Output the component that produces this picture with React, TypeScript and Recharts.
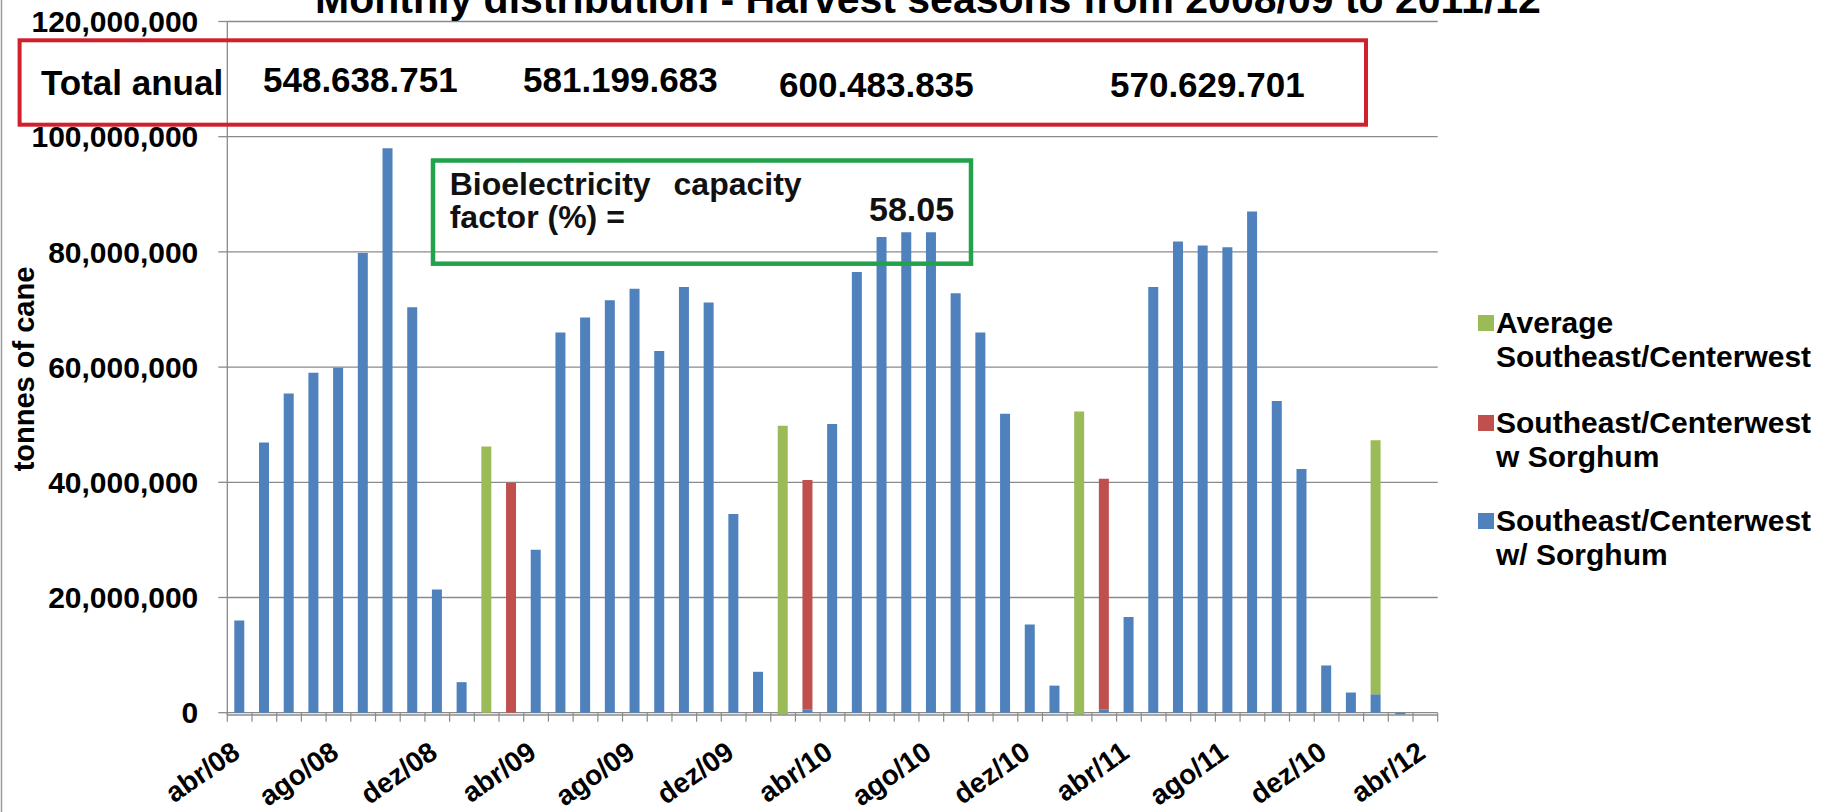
import { BarChart, Bar, XAxis, YAxis, CartesianGrid } from 'recharts';

const FONT = '"Liberation Sans", Arial, Helvetica, sans-serif';

// one category per month, abr/08 .. abr/12
const months = [
  'abr/08', 'mai/08', 'jun/08', 'jul/08', 'ago/08', 'set/08', 'out/08', 'nov/08', 'dez/08', 'jan/09', 'fev/09', 'mar/09',
  'abr/09', 'mai/09', 'jun/09', 'jul/09', 'ago/09', 'set/09', 'out/09', 'nov/09', 'dez/09', 'jan/10', 'fev/10', 'mar/10',
  'abr/10', 'mai/10', 'jun/10', 'jul/10', 'ago/10', 'set/10', 'out/10', 'nov/10', 'dez/10', 'jan/11', 'fev/11', 'mar/11',
  'abr/11', 'mai/11', 'jun/11', 'jul/11', 'ago/11', 'set/11', 'out/11', 'nov/11', 'dez/11', 'jan/12', 'fev/12', 'mar/12',
  'abr/12',
];

// labels shown on the axis, every 4th month (as printed in the original)
const tickLabels = ['abr/08', 'ago/08', 'dez/08', 'abr/09', 'ago/09', 'dez/09', 'abr/10', 'ago/10', 'dez/10', 'abr/11', 'ago/11', 'dez/10', 'abr/12'];

// million tonnes of cane, stacked bottom -> top: blue, red, green
const swSorghumSlash = [
  16.0, 46.9, 55.4, 59.0, 59.9, 79.8, 98.0, 70.4, 21.4, 5.3, 0, 0,
  28.3, 66.0, 68.6, 71.6, 73.6, 62.8, 73.9, 71.2, 34.5, 7.1, -0.3, 0.6,
  50.1, 76.5, 82.6, 83.4, 83.4, 72.8, 66.0, 51.9, 15.3, 4.7, -0.3, 0.6,
  16.6, 73.9, 81.8, 81.1, 80.8, 87.0, 54.1, 42.3, 8.2, 3.5, 3.2, -0.3,
  0,
];
const swSorghum = [
  0, 0, 0, 0, 0, 0, 0, 0, 0, 0, 0, 39.9,
  0, 0, 0, 0, 0, 0, 0, 0, 0, 0, 0, 39.8,
  0, 0, 0, 0, 0, 0, 0, 0, 0, 0, 0, 40.0,
  0, 0, 0, 0, 0, 0, 0, 0, 0, 0, 0, 0,
  0,
];
const averageSECW = [
  0, 0, 0, 0, 0, 0, 0, 0, 0, 0, 46.2, 0,
  0, 0, 0, 0, 0, 0, 0, 0, 0, 0, 50.1, 0,
  0, 0, 0, 0, 0, 0, 0, 0, 0, 0, 52.6, 0,
  0, 0, 0, 0, 0, 0, 0, 0, 0, 0, 44.1, 0,
  0,
];

const yTicks = [0, 20000000, 40000000, 60000000, 80000000, 100000000, 120000000];

const annualTotals = ['548.638.751', '581.199.683', '600.483.835', '570.629.701'];
const capacityFactor = '58.05';

// legend order as in the original (top of stack first)
const legendItems = [
  { lines: ['Average', 'Southeast/Centerwest'], color: '#9BBB59' },
  { lines: ['Southeast/Centerwest', 'w Sorghum'], color: '#C0504D' },
  { lines: ['Southeast/Centerwest', 'w/ Sorghum'], color: '#4F81BD' },
];

const data = months.map((m, i) => ({
  month: m,
  blue: swSorghumSlash[i] * 1e6,
  red: swSorghum[i] * 1e6,
  green: averageSECW[i] * 1e6,
}));

// layout
const W = 1835;
const H = 812;
const PLOT_LEFT = 227.3;
const PLOT_RIGHT = 1437.7;
const PLOT_TOP = 21.5;
const PLOT_BOTTOM = 715;
const ZERO_OFFSET = 2.3; // zero line sits a little above the plot bottom (tiny negatives)
const BAND = (PLOT_RIGHT - PLOT_LEFT) / months.length;
const GRID = '#8a8a8a';

function XTick(props: any) {
  const { x, y, index } = props;
  const zeroY = y - ZERO_OFFSET;
  const label = index % 4 === 0 ? tickLabels[index / 4] : null;
  const lx = x + 2;
  const ly = zeroY + 43.5;
  return (
    <g>
      <line x1={x - BAND / 2} x2={x - BAND / 2} y1={zeroY} y2={zeroY + 9} stroke={GRID} strokeWidth={1.2} />
      {index === months.length - 1 && (
        <line x1={x + BAND / 2} x2={x + BAND / 2} y1={zeroY} y2={zeroY + 9} stroke={GRID} strokeWidth={1.2} />
      )}
      {label && (
        <text
          x={lx}
          y={ly}
          textAnchor="end"
          transform={`rotate(-35, ${lx}, ${ly})`}
          fontFamily={FONT}
          fontSize={28}
          fontWeight={700}
          fill="#000"
        >
          {label}
        </text>
      )}
    </g>
  );
}

const totalsX = [263, 523, 779, 1110];
const totalsY = [92, 92, 97, 97];
const legendY = [333, 433, 531];

export default function App() {
  return (
    <div style={{ position: 'absolute', left: 0, top: 0, width: W, height: H, background: '#fff' }}>
      <BarChart
        width={W}
        height={H}
        data={data}
        margin={{ top: PLOT_TOP, right: W - PLOT_RIGHT, bottom: 0, left: 0 }}
        barSize={10}
      >
        <CartesianGrid vertical={false} stroke={GRID} strokeWidth={1.3} />
        <XAxis
          dataKey="month"
          interval={0}
          tickLine={false}
          axisLine={false}
          tickSize={0}
          tickMargin={0}
          height={H - PLOT_BOTTOM}
          tick={(p: any) => <XTick {...p} />}
        />
        <YAxis
          width={PLOT_LEFT}
          domain={[-400000, 120000000]}
          ticks={yTicks}
          interval={0}
          tickFormatter={(v: number) => v.toLocaleString('en-US')}
          tickSize={9}
          tickMargin={20}
          tickLine={{ stroke: GRID, strokeWidth: 1.3 }}
          axisLine={{ stroke: GRID, strokeWidth: 1.3 }}
          tick={{ fill: '#000', fontSize: 30, fontWeight: 700, fontFamily: FONT }}
        />
        <Bar dataKey="blue" stackId="s" fill="#4F81BD" isAnimationActive={false} />
        <Bar dataKey="red" stackId="s" fill="#C0504D" isAnimationActive={false} />
        <Bar dataKey="green" stackId="s" fill="#9BBB59" isAnimationActive={false} />
      </BarChart>

      <svg
        width={W}
        height={H}
        style={{ position: 'absolute', left: 0, top: 0, pointerEvents: 'none' }}
        fontFamily={FONT}
      >
        <line x1={1.5} x2={1.5} y1={0} y2={H} stroke="#9a9a9a" strokeWidth={1.5} />

        <text x={928} y={13} textAnchor="middle" fontSize={41} fontWeight={700} fill="#000">
          Monthly distribution - Harvest seasons from 2008/09 to 2011/12
        </text>

        <text
          x={23.5}
          y={369}
          textAnchor="middle"
          dominantBaseline="central"
          transform="rotate(-90, 23.5, 369)"
          fontSize={29}
          fontWeight={700}
          fill="#000"
        >
          tonnes of cane
        </text>

        {/* annual totals box */}
        <rect x={19.6} y={40.3} width={1346.4} height={84.4} fill="none" stroke="#D0202E" strokeWidth={4} />
        <text x={41} y={95} fontSize={35} fontWeight={700} fill="#000">Total anual</text>
        {annualTotals.map((t, i) => (
          <text key={t} x={totalsX[i]} y={totalsY[i]} fontSize={35} fontWeight={700} fill="#000">{t}</text>
        ))}

        {/* capacity factor box */}
        <rect x={433} y={160.5} width={538} height={103.2} fill="none" stroke="#22A24A" strokeWidth={4.5} />
        <text fontSize={32} fontWeight={700} fill="#111">
          <tspan x={449.7} y={195} wordSpacing={14}>Bioelectricity capacity</tspan>
          <tspan x={449.7} y={228}>factor (%) =</tspan>
        </text>
        <text x={869} y={220.5} fontSize={34} fontWeight={700} fill="#111">{capacityFactor}</text>

        {/* legend */}
        {legendItems.map((item, i) => (
          <g key={i}>
            <rect x={1478} y={legendY[i] - 18} width={16} height={16} fill={item.color} />
            <text fontSize={30} fontWeight={700} fill="#000">
              {item.lines.map((ln, j) => (
                <tspan key={j} x={1496} y={legendY[i] + j * 34}>{ln}</tspan>
              ))}
            </text>
          </g>
        ))}
      </svg>
    </div>
  );
}
